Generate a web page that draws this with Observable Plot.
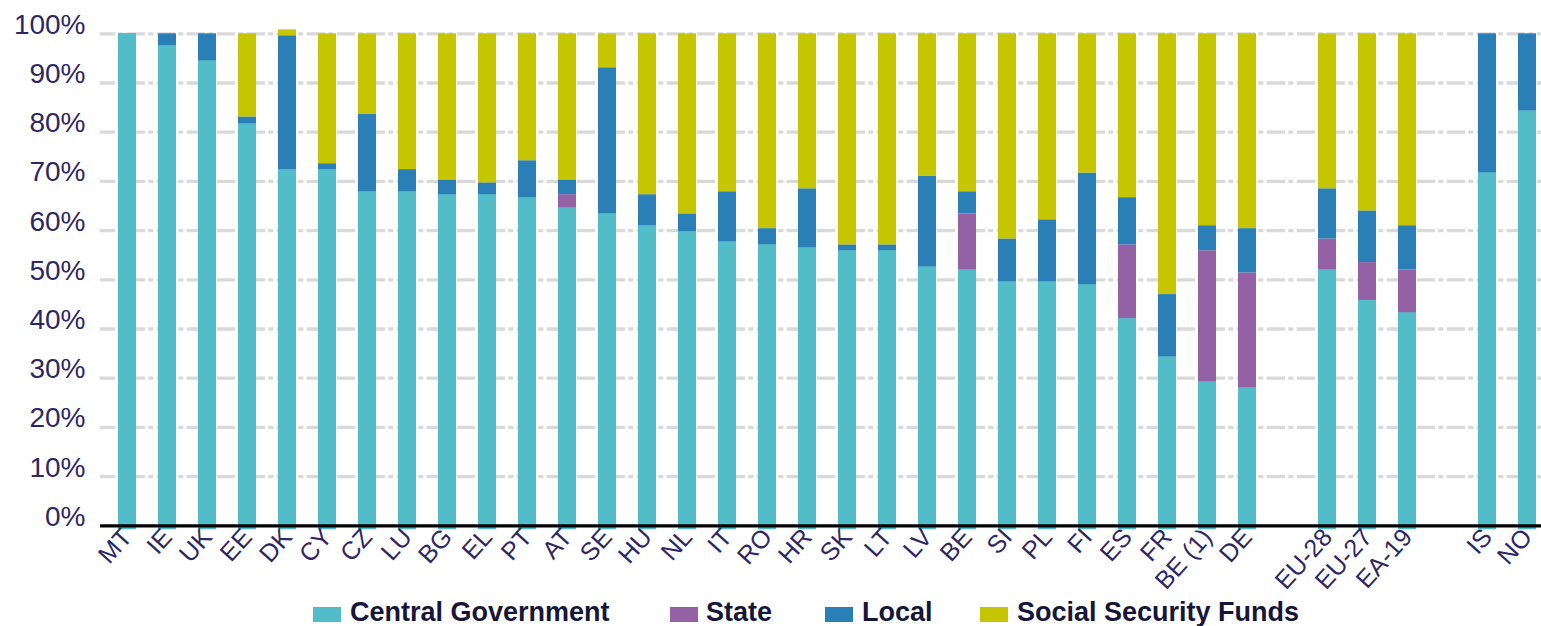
<!DOCTYPE html>
<html>
<head>
<meta charset="utf-8">
<script src="https://cdn.jsdelivr.net/npm/d3@7"></script>
<script src="https://cdn.jsdelivr.net/npm/@observablehq/plot@0.6"></script>
<style>
  html, body { margin: 0; padding: 0; background: #fff; }
  #chart { width: 1541px; height: 626px; overflow: hidden; font-family: "Liberation Sans", Arial, sans-serif; }
  #chart svg { display: block; }
</style>
</head>
<body>
<div id="chart"></div>
<script>
const categories = ["MT","IE","UK","EE","DK","CY","CZ","LU","BG","EL","PT","AT","SE","HU","NL","IT","RO","HR","SK","LT","LV","BE","SI","PL","FI","ES","FR","BE (1)","DE","gap1","EU-28","EU-27","EA-19","gap2","IS","NO"];
const seriesNames = ["Central Government","State","Local","Social Security Funds"];
const seriesColors = ["#52bdc8","#9462a4","#2a80b6","#c5c500"];

const central = [100,97.6,94.5,81.7,72.4,72.4,67.9,67.9,67.3,67.3,66.7,64.6,63.4,61.0,59.8,57.7,57.1,56.5,55.9,55.9,52.6,52.0,49.6,49.6,49.0,42.1,34.3,29.3,28.0,null,52.0,45.8,43.3,null,71.7,84.3];
const state   = [0,0,0,0,0,0,0,0,0,0,0,2.7,0,0,0,0,0,0,0,0,0,11.4,0,0,0,15.0,0,26.6,23.4,null,6.3,7.7,8.7,null,0,0];
const local   = [0,2.4,5.5,1.4,27.2,1.2,15.8,4.5,3.0,2.4,7.5,3.0,29.7,6.3,3.6,10.2,3.3,12.0,1.2,1.2,18.5,4.5,8.7,12.6,22.7,9.6,12.7,5.1,9.0,null,10.2,10.5,9.0,null,28.3,15.7];
const ssf     = [0,0,0,16.9,1.2,26.4,16.3,27.6,29.7,30.3,25.8,29.7,6.9,32.7,36.6,32.1,39.6,31.5,42.9,42.9,28.9,32.1,41.7,37.8,28.3,33.3,53.0,39.0,39.6,null,31.5,36.0,39.0,null,0,0];

const yTicks = [0,10,20,30,40,50,60,70,80,90,100];

const seriesValues = [central, state, local, ssf];
const rows = [];
categories.forEach((c, i) => {
  seriesNames.forEach((s, j) => {
    const v = seriesValues[j][i];
    if (v != null) rows.push({cat: c, series: s, value: v});
  });
});
const centralRows = rows.filter(d => d.series === "Central Government");

const textColor = "#2e2763";

const plot = Plot.plot({
  width: 1541,
  height: 598,
  marginTop: 33.3,
  marginBottom: 72.7,
  marginLeft: 100,
  marginRight: 0,
  style: {fontFamily: '"Liberation Sans", Arial, sans-serif', background: "#fff"},
  x: {domain: categories, range: [102, 1552.8], paddingInner: 0.54, paddingOuter: 0.27, axis: null},
  y: {domain: [0, 100], axis: null},
  color: {domain: seriesNames, range: seriesColors},
  marks: [
    Plot.ruleY(yTicks.filter(d => d > 0), {stroke: "#d9d9d9", strokeWidth: 3.3, strokeDasharray: "18.3,3.3,5,3.4", strokeDashoffset: 3.3}),
    Plot.barY(centralRows, {x: "cat", y: "value", fill: seriesColors[0], insetBottom: -4}),
    Plot.barY(rows, Plot.stackY({x: "cat", y: "value", fill: "series", order: seriesNames})),
    Plot.ruleY([0], {stroke: "#000", strokeWidth: 3.3}),
    Plot.axisY({ticks: yTicks, label: null, tickSize: 0, tickPadding: 15, dy: -9, fontSize: 28, fill: textColor, tickFormat: d => d + "%"}),
    Plot.axisX({label: null, tickRotate: -48, tickSize: 0, tickPadding: 7, fontSize: 25, fill: textColor, tickFormat: d => d.startsWith("gap") ? "" : d})
  ]
});

const chart = document.getElementById("chart");
chart.appendChild(plot);

// Legend below the plot
const legendItems = [
  {name: seriesNames[0], color: seriesColors[0], sx: 313, tx: 350},
  {name: seriesNames[1], color: seriesColors[1], sx: 670, tx: 706},
  {name: seriesNames[2], color: seriesColors[2], sx: 825, tx: 862},
  {name: seriesNames[3], color: seriesColors[3], sx: 980, tx: 1017}
];
const legend = d3.create("svg").attr("width", 1541).attr("height", 28);
const g = legend.selectAll("g").data(legendItems).join("g");
g.append("rect").attr("x", d => d.sx).attr("y", 9).attr("width", 28).attr("height", 15).attr("fill", d => d.color);
g.append("text").attr("x", d => d.tx).attr("y", 23)
  .attr("font-family", '"Liberation Sans", Arial, sans-serif')
  .attr("font-weight", "bold").attr("font-size", 27).attr("fill", "#161638")
  .text(d => d.name);
chart.appendChild(legend.node());
</script>
</body>
</html>
